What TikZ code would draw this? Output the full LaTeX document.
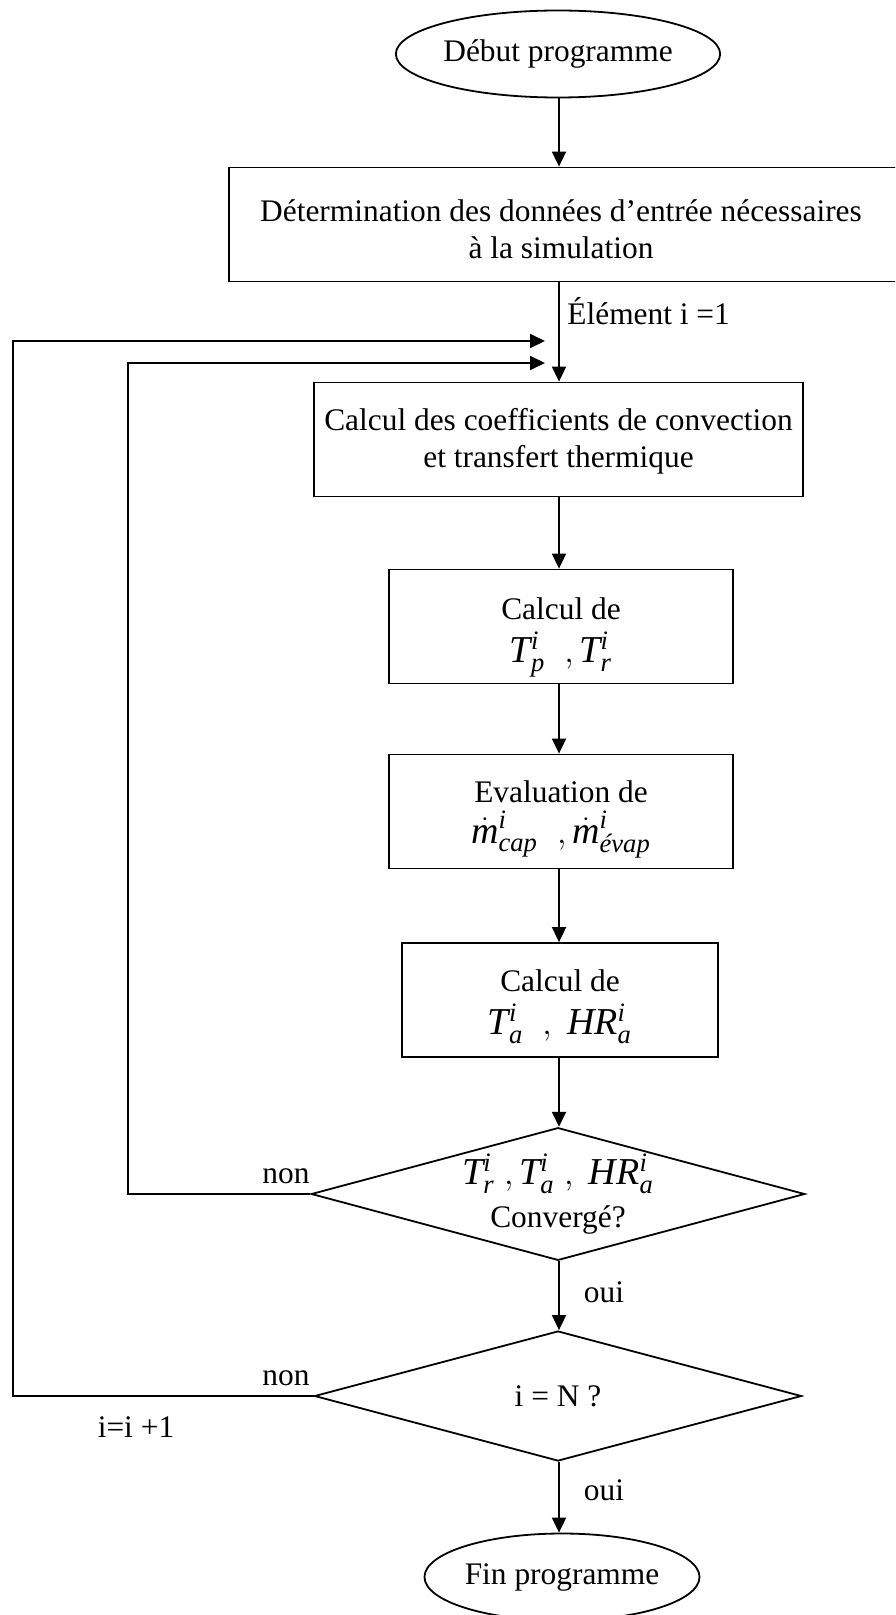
\documentclass[tikz,border=0pt]{standalone}
\usepackage{amsmath}
\usepackage{fontspec}
\setmainfont{Liberation Serif}
\usetikzlibrary{shapes.geometric,arrows.meta}
\newcommand{\vr}[3]{\textit{#1}^{\textit{#2}}_{\textit{#3}}}
\newcommand{\fml}{\fontsize{19}{22}\selectfont}
\tikzset{
  base/.style={draw, line width=0.9pt, inner sep=0pt, align=center, font=\fontsize{15.7}{18.5}\selectfont},
  oval/.style={base, ellipse, minimum width=137.5pt, minimum height=43.5pt},
  stepbox/.style={draw, line width=0.9pt, rectangle, inner sep=0pt, minimum height=57pt},
  boxtext/.style={inner sep=0pt, align=center, font=\fontsize{15.7}{18.5}\selectfont},
  decision/.style={base, diamond, aspect=3.72, minimum width=243.5pt, minimum height=65pt},
  lbl/.style={inner sep=0pt, font=\fontsize{15.7}{18.5}\selectfont},
  arr/.style={line width=0.9pt, -{Triangle[length=7.5pt,width=7pt]}},
  ln/.style={line width=0.9pt}
}
\begin{document}
\begin{tikzpicture}[x=0.5pt,y=-0.5pt]
\useasboundingbox (0,0) rectangle (895,1615);
\clip (0,0) rectangle (895,1615);
\coordinate (spine) at (559,0);
\node[oval] (debut) at (558,54) {Début programme};
% boxes
\node[stepbox, minimum width=334pt] (b1) at (563,224.5) {};
\node[boxtext] (b1t) at ([yshift=-2.5pt]b1.center -| 561,0) {Détermination des données d’entrée nécessaires\\ à la simulation};
\node[stepbox, minimum width=244.5pt] (b2) at (558.5,439.5) {};
\node[boxtext] (b2t) at ([yshift=-0.75pt]b2.center) {Calcul des coefficients de convection\\ et transfert thermique};
\node[stepbox, minimum width=172pt] (b3) at (561,626.5) {};
\node[boxtext] (b3t) at ([yshift=-5.5pt]b3.center) {Calcul de\\[3pt] \fml $\vr{T}{i}{p}\ \ ,\vr{T}{i}{r}$};
\node[stepbox, minimum width=172pt] (b4) at (561,811.5) {};
\node[boxtext] (b4t) at ([yshift=-4pt]b4.center) {Evaluation de\\[2pt] \fml $\dot{\textit{m}}^{\textit{i}}_{\textit{cap}}\ \ ,\dot{\textit{m}}^{\textit{i}}_{\textit{évap}}$};
\node[stepbox, minimum width=158pt] (b5) at (560,1000) {};
\node[boxtext] (b5t) at ([yshift=-3.5pt]b5.center) {Calcul de\\[3pt] \fml $\vr{T}{i}{a}\ \ ,\ \vr{HR}{i}{a}$};
% decisions
\node[decision] (d1) at (558,1194) {\fml $\vr{T}{i}{r}\ ,\vr{T}{i}{a}\ ,\ \vr{HR}{i}{a}$\\[3pt] Convergé?};
\node[decision] (d2) at (558,1396) {i = N ?};
\node[oval] (fin) at (562,1577) {Fin programme};
% main flow
\draw[arr] (debut.south -| spine) -- (b1.north -| spine);
\draw[arr] (b1.south -| spine) -- (b2.north -| spine);
\draw[arr] (b2.south -| spine) -- (b3.north -| spine);
\draw[arr] (b3.south -| spine) -- (b4.north -| spine);
\draw[arr] (b4.south -| spine) -- (b5.north -| spine);
\draw[arr] (b5.south -| spine) -- (d1.north -| spine);
\draw[arr] (d1.south -| spine) -- (d2.north -| spine);
\draw[arr] (d2.south -| spine) -- (fin.north -| spine);
% loops
\coordinate (tipA) at (545,341);
\coordinate (tipB) at (545,363);
\coordinate (outer) at (13,341);
\coordinate (inner) at (128,363);
\draw[arr] (d2.west) -| (outer) -- (tipA);
\draw[arr] (d1.west) -| (inner) -- (tipB);
% labels
\node[lbl, anchor=west] (elem) at (567,311) {Élément i =1};
\node[lbl] (non1) at (286,1176) {non};
\node[lbl] (oui1) at (604,1292) {oui};
\node[lbl] (non2) at (286,1378) {non};
\node[lbl] (incr) at (136,1427) {i=i +1};
\node[lbl] (oui2) at (604,1490) {oui};
\end{tikzpicture}
\end{document}
